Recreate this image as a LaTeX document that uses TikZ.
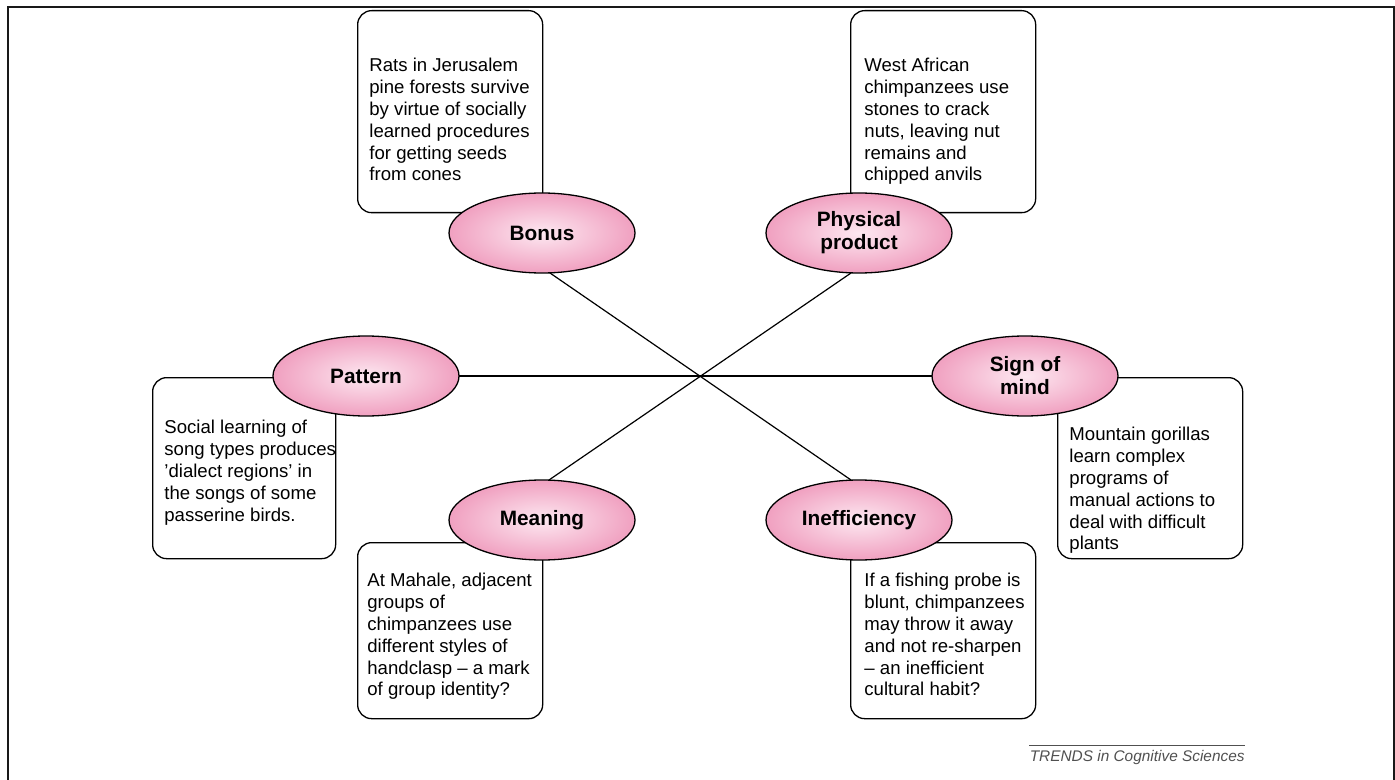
\documentclass[tikz,border=0pt]{standalone}
\usepackage{fontspec}
\setmainfont{Liberation Sans}
\usetikzlibrary{shapes.geometric, positioning, calc}
\definecolor{ovalpink}{RGB}{240,160,192}
\definecolor{ovallite}{RGB}{253,232,241}
\definecolor{footgray}{RGB}{80,80,80}
\tikzset{
  topic/.style={ellipse, draw=black, line width=0.65pt, inner color=ovallite, outer color=ovalpink,
                minimum width=93pt, minimum height=40pt, inner sep=0pt, align=center,
                font=\fontsize{10.4}{11.5}\selectfont\bfseries},
  cbox/.style={rectangle, rounded corners=7pt, draw=black, fill=white, line width=0.65pt,
               minimum width=92.5pt, minimum height=#1, anchor=north west, inner sep=0pt},
  cbox/.default=100pt,
  ctext/.style={anchor=north west, align=left, inner sep=0pt, font=\fontsize{9.3}{10.9}\selectfont},
  link/.style={line width=0.6pt, black},
}
\begin{document}
\begin{tikzpicture}[x=0.5pt, y=0.5pt]
  \useasboundingbox (0,0) rectangle (1395,-780);
  % frame
  \draw[line width=1pt, black!90] (7.5,-780) -- (7.5,-7.5) -- (1393.5,-7.5) -- (1393.5,-780);

  % example boxes
  \node[cbox=101pt] (bonusbox) at (357,-10) {};
  \node[cbox=101pt] (physbox) at (850,-10) {};
  \node[cbox=90.5pt, minimum width=91.5pt] (patternbox) at (152,-377) {};
  \node[cbox=90.5pt] (signbox) at (1057,-377) {};
  \node[cbox=88pt] (meaningbox) at (357,-542) {};
  \node[cbox=88pt] (ineffbox) at (850,-542) {};

  % box texts
  \node[ctext] (bonustext) at (369,-58) {Rats in Jerusalem\\pine forests survive\\by virtue of socially\\learned procedures\\for getting seeds\\from cones};
  \node[ctext] (phystext) at (864,-58) {West African\\chimpanzees use\\stones to crack\\nuts, leaving nut\\remains and\\chipped anvils};
  \node[ctext] (patterntext) at (164,-420) {Social learning of\\song types produces\\'dialect regions' in\\the songs of some\\passerine birds.};
  \node[ctext] (signtext) at (1069,-427) {Mountain gorillas\\learn complex\\programs of\\manual actions to\\deal with difficult\\plants};
  \node[ctext] (meaningtext) at (367,-573) {At Mahale, adjacent\\groups of\\chimpanzees use\\different styles of\\handclasp -- a mark\\of group identity?};
  \node[ctext] (inefftext) at (864,-573) {If a fishing probe is\\blunt, chimpanzees\\may throw it away\\and not re-sharpen\\-- an inefficient\\cultural habit?};

  % topics
  \coordinate (bonusfoot) at (550,-273);
  \coordinate (physfoot) at (851,-273);
  \coordinate (meaninghead) at (549,-480);
  \coordinate (ineffhead) at (851,-480);
  \draw[link] (bonusfoot) -- (ineffhead);
  \draw[link] (physfoot) -- (meaninghead);
  \draw[link] (366,-376) -- (1025,-376);

  \node[topic] (bonus) at (542,-233) {Bonus};
  \node[topic] (physical) at (859,-233) {Physical\\product};
  \node[topic] (pattern) at (366,-376) {Pattern};
  \node[topic] (sign) at (1025,-376) {Sign of\\mind};
  \node[topic] (meaning) at (542,-520) {Meaning};
  \node[topic] (ineff) at (859,-520) {Inefficiency};

  % source line
  \node[anchor=north east, inner sep=0pt, text=footgray, font=\fontsize{7.7}{9}\selectfont\itshape]
       (source) at (1245,-750) {TRENDS in Cognitive Sciences};
  \draw[footgray, line width=0.5pt] (source.north west |- 0,-745) -- (source.north east |- 0,-745);
\end{tikzpicture}
\end{document}
